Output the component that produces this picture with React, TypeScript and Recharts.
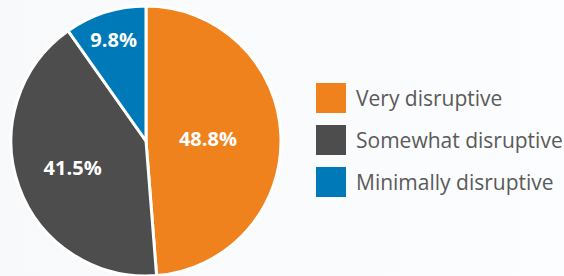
import React from "react";
import { PieChart, Pie, Cell, Legend } from "recharts";

const categories = ["Very disruptive", "Somewhat disruptive", "Minimally disruptive"];
const values = [48.8, 41.5, 9.8];
const colors = ["#F0821E", "#4D4D4D", "#0079B8"];
const labelRadii = [62, 78, 107];

const data = categories.map((name, i) => ({ name, value: values[i] }));

const RADIAN = Math.PI / 180;

const renderLabel = (props: any) => {
  const { cx, cy, midAngle, index, value } = props;
  const r = labelRadii[index];
  const x = cx + r * Math.cos(-midAngle * RADIAN);
  const y = cy + r * Math.sin(-midAngle * RADIAN);
  return (
    <text
      x={x}
      y={y}
      fill="#ffffff"
      textAnchor="middle"
      dominantBaseline="central"
      fontFamily="'Open Sans', sans-serif"
      fontWeight={700}
      fontSize={20}
    >
      {value.toFixed(1)}%
    </text>
  );
};

const renderLegend = () => (
  <div>
    {categories.map((c, i) => (
      <div key={c} style={{ display: "flex", alignItems: "center", height: 30, marginBottom: 12 }}>
        <div style={{ width: 30, height: 30, background: colors[i], marginRight: 10 }} />
        <span style={{ fontFamily: "'Open Sans', sans-serif", fontSize: 21, color: "#5a5a5a", whiteSpace: "nowrap", lineHeight: "30px" }}>{c}</span>
      </div>
    ))}
  </div>
);

export default function App() {
  return (
    <div style={{ position: "absolute", left: 0, top: 0, width: 564, height: 276, background: "linear-gradient(90deg, #f7f9fa, #fcfdfe)" }}>
      <PieChart width={564} height={276} margin={{ top: 0, right: 0, bottom: 0, left: 0 }}>
        <Pie
          data={data}
          dataKey="value"
          nameKey="name"
          cx={146}
          cy={141}
          outerRadius={135}
          startAngle={90}
          endAngle={-270}
          stroke="#ffffff"
          strokeWidth={3}
          labelLine={false}
          label={renderLabel}
          isAnimationActive={false}
        >
          {data.map((d, i) => (
            <Cell key={d.name} fill={colors[i]} />
          ))}
        </Pie>
        <Legend content={renderLegend} layout="vertical" wrapperStyle={{ left: 316, top: 83, width: 248 }} />
      </PieChart>
    </div>
  );
}
